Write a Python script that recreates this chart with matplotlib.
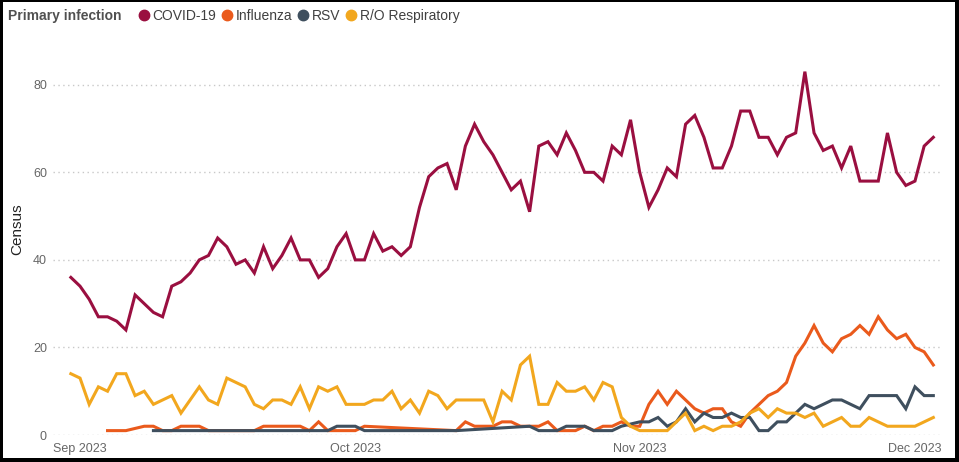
import matplotlib
matplotlib.use("Agg")
from matplotlib import pyplot as plt
from matplotlib.patches import Rectangle
from matplotlib.lines import Line2D
import numpy as np
import pandas as pd

plt.rcParams['font.family'] = ['Liberation Sans', 'DejaVu Sans']

# daily census, 2023-08-31 .. 2023-12-03 (None = no record that day)
start_date = "2023-08-31"
n_days = 95

covid = [36,
         34, 31, 27, 27, 26, 24, 32, 30, 28, 27, 34, 35, 37, 40, 41, 45, 43, 39, 40, 37,
         43, 38, 41, 45, 40, 40, 36, 38, 43, 46,
         40, 40, 46, 42, 43, 41, 43, 52, 59, 61, 62, 56, 66, 71, 67, 64, 60, 56, 58, 51,
         66, 67, 64, 69, 65, 60, 60, 58, 66, 64, 72,
         60, 52, 56, 61, 59, 71, 73, 68, 61, 61, 66, 74, 74, 68, 68, 64, 68, 69, 83, 69,
         65, 66, 61, 66, 58, 58, 58, 69, 60, 57,
         58, 66, 68]

influenza = [None,
             None, None, None, 1, 1, 1, None, 2, 2, 1, 1, 2, 2, 2, 1, 1, 1, 1, 1, 1,
             2, 2, 2, 2, 2, 1, 3, 1, 1, 1,
             1, 2, None, None, None, None, None, None, None, None, None, 1, 3, 2, 2, 2,
             3, 3, 2, 2, 2, 3, 1, 1, 1, 2, 1, 2, 2, 3, 2,
             2, 7, 10, 7, 10, 8, 6, 5, 6, 6, 3, 2, 5, 7, 9, 10, 12, 18, 21, 25,
             21, 19, 22, 23, 25, 23, 27, 24, 22, 23,
             20, 19, 16]

rsv = [None,
       None, None, None, None, None, None, None, None, 1, 1, 1, 1, 1, 1, 1, 1, 1, 1, 1, 1,
       1, 1, 1, 1, 1, 1, 1, 1, 2, 2,
       2, 1, 1, 1, 1, 1, 1, 1, 1, 1, 1, 1, None, None, None, None, None, None, None,
       2, 1, 1, 1, 2, 2, 2, 1, 1, 1, 2, None,
       3, 3, 4, 2, 3, 6, 3, 5, 4, 4, 5, 4, 4, 1, 1, 3, 3, 5, 7, 6,
       7, 8, 8, 7, 6, 9, 9, 9, 9, 6,
       11, 9, 9]

ro_respiratory = [14,
                  13, 7, 11, 10, 14, 14, 9, 10, 7, 8, 9, 5, 8, 11, 8, 7, 13, 12, 11, 7,
                  6, 8, 8, 7, 11, 6, 11, 10, 11, 7,
                  7, 7, 8, 8, 10, 6, 8, 5, 10, 9, 6, 8, 8, 8, 8, 3, 10, 8, 16, 18,
                  7, 7, 12, 10, 10, 11, 8, 12, 11, 4, 2,
                  1, 1, 1, 1, 3, 5, 1, 2, 1, 2, 2, 3, 5, 6, 4, 6, 5, 5, 4, 5,
                  2, 3, 4, 2, 2, 4, 3, 2, 2, 2,
                  2, 3, 4]

series_names = ["COVID-19", "Influenza", "RSV", "R/O Respiratory"]
series_colors = ["#9A0F40", "#EA5A1C", "#3F4F5E", "#F2A71E"]

dates = pd.date_range(start_date, periods=n_days, freq="D")
tick_dates = pd.to_datetime(["2023-09-01", "2023-10-01", "2023-11-01", "2023-12-01"])
tick_labels = ["Sep 2023", "Oct 2023", "Nov 2023", "Dec 2023"]

W, H = 959, 462
fig = plt.figure(figsize=(W / 100, H / 100), dpi=100, facecolor="black")
# white card inside the dark screenshot frame
fig.patches.append(Rectangle((3 / W, 4 / H), (W - 7) / W, (H - 6) / H,
                             transform=fig.transFigure, facecolor="white",
                             edgecolor="none", zorder=-1))

ax = fig.add_axes([52.5 / W, (H - 435) / H, 890 / W, 394 / H])
ax.set_facecolor("white")

for vals, name, col in zip([covid, influenza, rsv, ro_respiratory], series_names, series_colors):
    v = np.array([np.nan if x is None else x for x in vals], dtype=float)
    ok = ~np.isnan(v)
    # missing days are simply bridged, as the original report does
    ax.plot(dates[ok], v[ok], color=col, lw=2.2, solid_joinstyle="miter", label=name)

ax.set_ylim(0, 90)
ax.set_xlim(pd.Timestamp("2023-08-29"), pd.Timestamp("2023-12-04"))
ax.set_yticks([0, 20, 40, 60, 80])
ax.set_xticks(tick_dates)
ax.set_xticklabels(tick_labels)
ax.tick_params(axis="both", length=0, labelsize=9, labelcolor="#666666")
ax.tick_params(axis="x", pad=6)
ax.tick_params(axis="y", pad=4)
ax.grid(axis="y", color="#c8c8c8", lw=1, linestyle=(0, (1, 2.5)))
ax.set_axisbelow(True)
for s in ax.spines.values():
    s.set_visible(False)

ax.set_ylabel("Census", fontsize=11, color="#222222")
ax.yaxis.set_label_coords((24 - 52.5) / 890, (435 - 229) / 394)

# legend row across the top
fig.text(8 / W, 1 - 16 / H, "Primary infection", fontsize=10, fontweight="bold",
         color="#505050", va="center", ha="left")
handles = [Line2D([], [], marker="o", ls="none", color=c, markersize=7.5) for c in series_colors]
fig.legend(handles, series_names, loc="center left", bbox_to_anchor=(131.5 / W, 1 - 16 / H),
           ncol=4, frameon=False, borderpad=0, handlelength=0.8, handletextpad=0.2,
           columnspacing=0.4, fontsize=10, labelcolor="#404040")

fig.savefig("out.png", dpi=100, facecolor=fig.get_facecolor())
